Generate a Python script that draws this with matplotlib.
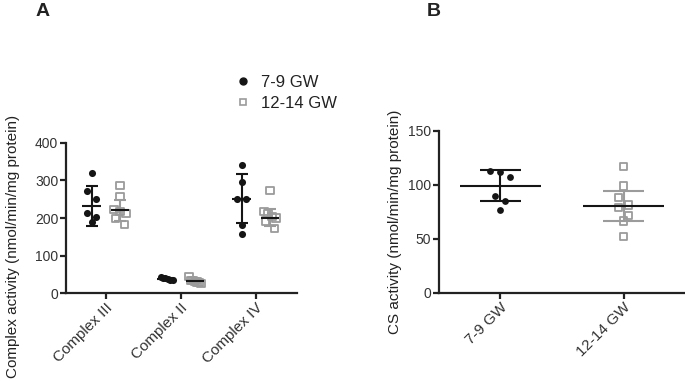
import numpy as np
import matplotlib
matplotlib.use("Agg")
import matplotlib.pyplot as plt
from matplotlib.lines import Line2D

plt.rcParams['font.family'] = ['Liberation Sans', 'DejaVu Sans']

# panel A: respiratory chain complexes
complexes = ["Complex III", "Complex II", "Complex IV"]
early_a = [[320, 272, 250, 214, 202, 190],
           [42, 41, 40, 38, 36, 35],
           [340, 296, 251, 251, 182, 158]]
late_a = [[286, 258, 222, 218, 212, 198, 182],
          [44, 35, 33, 32, 30, 29, 27],
          [272, 218, 212, 205, 200, 192, 172]]
early_a_mean = [232, 38, 251]
early_a_sd = [53, 3, 65]
late_a_mean = [221, 32, 201]
late_a_sd = [28, 4, 22]

# panel B: citrate synthase
groups = ["7-9 GW", "12-14 GW"]
early_b = [112.7, 112, 107.4, 89.5, 84.9, 76.5]
late_b = [116.7, 98.8, 88, 81.2, 78.7, 71.9, 66.4, 51.9]
cs_mean = [99, 80]
cs_sd = [14.5, 14]

BLACK = "#151515"
GREY = "#9b9b9b"


def swarm(ax, values, center, bin_px, step_px, max_half_px):
    # spread points that sit in the same row sideways, like prism does
    x0 = ax.transData.transform((0, 0))[0]
    px_per_x = ax.transData.transform((1, 0))[0] - x0
    vals = np.asarray(values, dtype=float)
    ys = ax.transData.transform(np.column_stack([np.zeros(len(vals)), vals]))[:, 1]
    order = np.argsort(-vals, kind="stable")
    xs = np.full(len(vals), float(center))
    i = 0
    while i < len(order):
        row = [order[i]]
        j = i + 1
        while j < len(order) and ys[order[i]] - ys[order[j]] < bin_px:
            row.append(order[j])
            j += 1
        n = len(row)
        if n > 1:
            step = min(step_px, 2 * max_half_px / (n - 1))
            offs = (np.arange(n) - (n - 1) / 2) * step
            for k, idx in enumerate(row):
                xs[idx] = center + offs[k] / px_per_x
        i = j
    return xs


def style_axes(ax):
    for s in ["top", "right"]:
        ax.spines[s].set_visible(False)
    for s in ["left", "bottom"]:
        ax.spines[s].set_linewidth(1.6)
        ax.spines[s].set_color("#222222")
    ax.tick_params(width=1.6, length=4, color="#222222", labelsize=10,
                   labelcolor="#333333", pad=1.5)


fig = plt.figure(figsize=(6.85, 3.81), dpi=100)

# ---- panel A ----
axA = fig.add_axes([66 / 685, 1 - 293.3 / 381, 231 / 685, 150.6 / 381])
axA.set_xlim(-0.53, 2.55)
axA.set_ylim(0, 400)
style_axes(axA)
axA.set_yticks([0, 100, 200, 300, 400])
axA.set_xticks(range(len(complexes)))
axA.set_xticklabels(complexes, rotation=45, ha="right", rotation_mode="anchor",
                    fontsize=11)

off = 0.19
for i in range(len(complexes)):
    cE, cL = i - off, i + off
    xe = swarm(axA, early_a[i], cE, 8.6, 9, 6)
    xl = swarm(axA, late_a[i], cL, 8.6, 9, 6)
    axA.errorbar([cE], [early_a_mean[i]], yerr=[early_a_sd[i]], color=BLACK,
                 lw=1.5, capsize=4, capthick=1.5, zorder=2)
    axA.errorbar([cL], [late_a_mean[i]], yerr=[late_a_sd[i]], color=GREY,
                 lw=1.5, capsize=4, capthick=1.5, zorder=2)
    axA.scatter(xe, early_a[i], s=26, color=BLACK, zorder=3, linewidths=0)
    axA.scatter(xl, late_a[i], s=26, marker="s", facecolors="none",
                edgecolors=GREY, linewidths=1.3, zorder=3)
    axA.hlines(early_a_mean[i], cE - 0.125, cE + 0.125, color=BLACK, lw=1.5, zorder=4)
    axA.hlines(late_a_mean[i], cL - 0.125, cL + 0.125, color=BLACK, lw=1.5, zorder=4)

axA.set_ylabel("Complex activity (nmol/min/mg protein)", fontsize=11,
               color="#222222")
axA.yaxis.set_label_coords(-46 / 231, (293.3 - 246) / 150.6)

# ---- panel B ----
axB = fig.add_axes([439 / 685, 1 - 292.7 / 381, 246 / 685, 162 / 381])
axB.set_xlim(-0.5, 1.5)
axB.set_ylim(0, 150)
style_axes(axB)
axB.set_yticks([0, 50, 100, 150])
axB.set_xticks(range(len(groups)))
axB.set_xticklabels(groups, rotation=45, ha="right", rotation_mode="anchor",
                    fontsize=11)

for i, (vals, col, mk) in enumerate([(early_b, BLACK, "o"), (late_b, GREY, "s")]):
    xs = swarm(axB, vals, i, 8.6, 10, 10)
    axB.errorbar([i], [cs_mean[i]], yerr=[cs_sd[i]], color=col, lw=1.5,
                 capsize=0, zorder=2)
    axB.hlines([cs_mean[i] - cs_sd[i], cs_mean[i] + cs_sd[i]], i - 0.165, i + 0.165,
               color=col, lw=1.5, zorder=2)
    if mk == "o":
        axB.scatter(xs, vals, s=24, color=col, zorder=3, linewidths=0)
    else:
        axB.scatter(xs, vals, s=26, marker="s", facecolors="none",
                    edgecolors=col, linewidths=1.3, zorder=3)
    axB.hlines(cs_mean[i], i - 0.33, i + 0.33, color=BLACK, lw=1.5, zorder=4)

axB.set_ylabel("CS activity (nmol/min/mg protein)", fontsize=11, color="#222222")
axB.yaxis.set_label_coords(-37 / 246, (292.7 - 222) / 162)

# legend
handles = [Line2D([], [], ls="none", marker="o", ms=5, color=BLACK),
           Line2D([], [], ls="none", marker="s", ms=5, mfc="none", mec=GREY, mew=1.2)]
fig.legend(handles, groups, loc="upper left", bbox_to_anchor=(226 / 685, 1 - 68 / 381),
           frameon=False, fontsize=12, handletextpad=0.5, labelspacing=0.35,
           handlelength=1.2, borderaxespad=0, labelcolor="#222222")

fig.text(43 / 685, 1 - 12 / 381, "A", fontsize=14, fontweight="bold",
         ha="center", va="center", color="#222222")
fig.text(434 / 685, 1 - 12 / 381, "B", fontsize=14, fontweight="bold",
         ha="center", va="center", color="#222222")

fig.savefig("out.png", dpi=100)
